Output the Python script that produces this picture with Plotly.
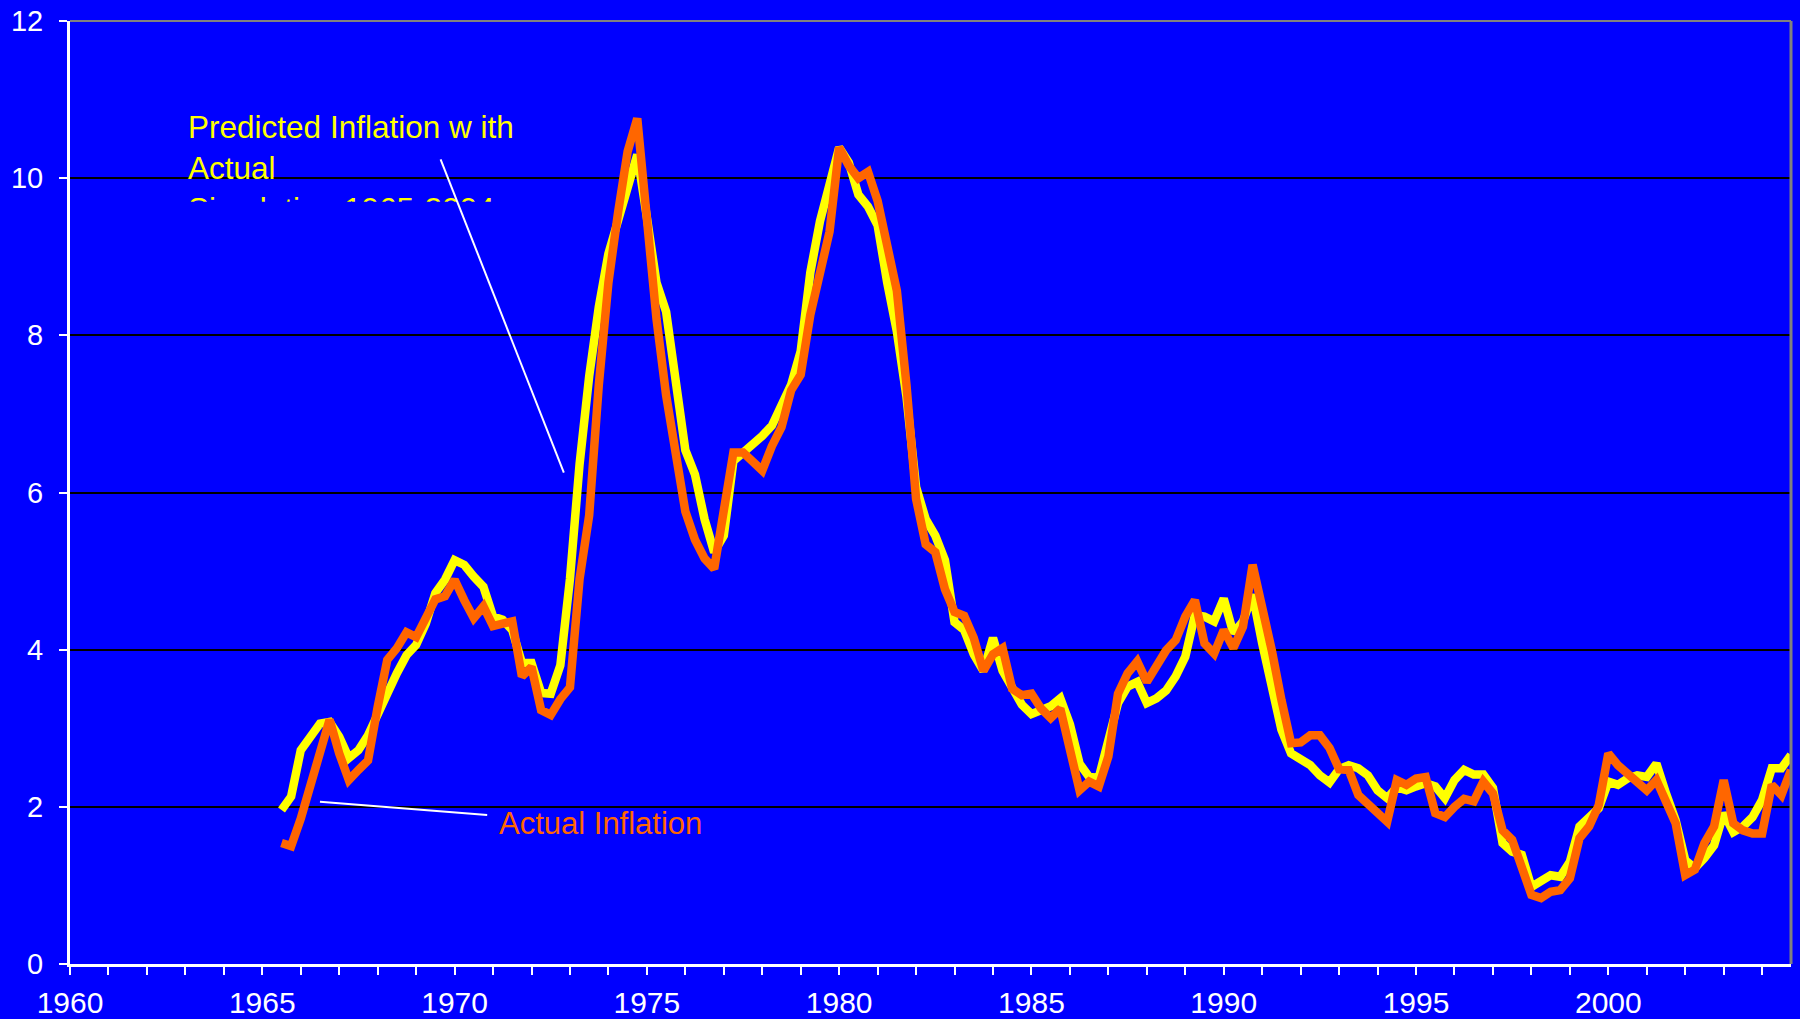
import numpy as np
import plotly.graph_objects as go

# Quarterly observations, 1965Q3 - 2004Q4 (decimal years)
start_year = 1965.5
actual_inflation = [
    1.54, 1.50, 1.85, 2.27, 2.69, 3.11, 2.68, 2.34, 2.47, 2.59,   # 1965.50 - 1967.75
    3.27, 3.87, 4.02, 4.22, 4.16, 4.41, 4.64, 4.68, 4.89, 4.63,   # 1968.00 - 1970.25
    4.40, 4.55, 4.30, 4.33, 4.36, 3.66, 3.78, 3.23, 3.17, 3.37,   # 1970.50 - 1972.75
    3.52, 4.90, 5.71, 7.37, 8.67, 9.56, 10.34, 10.76, 9.51, 8.21, # 1973.00 - 1975.25
    7.24, 6.41, 5.76, 5.40, 5.16, 5.03, 5.83, 6.51, 6.51, 6.41,   # 1975.50 - 1977.75
    6.28, 6.59, 6.83, 7.30, 7.50, 8.26, 8.83, 9.32, 10.39, 10.16, # 1978.00 - 1980.25
    10.00, 10.08, 9.71, 9.19, 8.57, 7.37, 5.92, 5.34, 5.24, 4.77, # 1980.50 - 1982.75
    4.48, 4.43, 4.15, 3.73, 3.94, 4.02, 3.50, 3.42, 3.44, 3.25,   # 1983.00 - 1985.25
    3.13, 3.25, 2.75, 2.21, 2.32, 2.26, 2.64, 3.44, 3.70, 3.85,   # 1985.50 - 1987.75
    3.59, 3.80, 3.99, 4.12, 4.42, 4.63, 4.08, 3.95, 4.25, 4.02,   # 1988.00 - 1990.25
    4.29, 5.08, 4.55, 3.99, 3.36, 2.81, 2.82, 2.91, 2.91, 2.75,   # 1990.50 - 1992.75
    2.48, 2.47, 2.15, 2.04, 1.90, 1.81, 2.34, 2.28, 2.36, 2.38,   # 1993.00 - 1995.25
    1.92, 1.87, 2.00, 2.10, 2.07, 2.32, 2.17, 1.70, 1.58, 1.24,   # 1995.50 - 1997.75
    0.88, 0.84, 0.92, 0.94, 1.09, 1.60, 1.75, 2.02, 2.68, 2.53,   # 1998.00 - 2000.25
    2.43, 2.32, 2.21, 2.34, 2.04, 1.79, 1.13, 1.20, 1.54, 1.75,   # 2000.50 - 2002.75
    2.34, 1.79, 1.70, 1.66, 1.66, 2.28, 2.15, 2.47,               # 2003.00 - 2004.75
]
predicted_inflation = [
    1.96, 2.13, 2.72, 2.91, 3.06, 3.08, 2.89, 2.62, 2.72, 2.91,
    3.15, 3.44, 3.70, 3.93, 4.06, 4.33, 4.72, 4.89, 5.14, 5.08,
    4.93, 4.80, 4.42, 4.38, 4.25, 3.83, 3.83, 3.45, 3.44, 3.80,
    4.90, 6.36, 7.48, 8.36, 9.04, 9.45, 9.92, 10.30, 9.50, 8.67,
    8.30, 7.39, 6.54, 6.23, 5.66, 5.24, 5.45, 6.40, 6.50, 6.62,
    6.72, 6.85, 7.11, 7.37, 7.80, 8.80, 9.45, 9.95, 10.39, 10.20,
    9.79, 9.64, 9.40, 8.67, 8.05, 7.22, 6.07, 5.66, 5.45, 5.14,
    4.35, 4.25, 3.94, 3.73, 4.15, 3.73, 3.52, 3.30, 3.18, 3.23,
    3.28, 3.38, 3.05, 2.55, 2.38, 2.37, 2.89, 3.32, 3.53, 3.59,
    3.32, 3.38, 3.48, 3.66, 3.91, 4.44, 4.42, 4.36, 4.65, 4.21,
    4.36, 4.70, 4.08, 3.51, 2.98, 2.68, 2.60, 2.53, 2.40, 2.31,
    2.48, 2.53, 2.49, 2.40, 2.21, 2.11, 2.25, 2.21, 2.26, 2.30,
    2.26, 2.11, 2.34, 2.47, 2.41, 2.41, 2.24, 1.54, 1.43, 1.39,
    0.98, 1.04, 1.13, 1.11, 1.30, 1.75, 1.87, 1.98, 2.32, 2.28,
    2.36, 2.40, 2.38, 2.55, 2.17, 1.83, 1.32, 1.22, 1.35, 1.51,
    1.92, 1.68, 1.75, 1.87, 2.09, 2.49, 2.49, 2.66,
]
quarters = start_year + 0.25 * np.arange(len(actual_inflation))

x_range = [1960, 2004.75]
y_range = [0, 12]
y_ticks = [0, 2, 4, 6, 8, 10, 12]
x_ticks = [1960, 1965, 1970, 1975, 1980, 1985, 1990, 1995, 2000]

predicted_label = "Predicted Inflation w ith<br>Actual<br>Simulation 1965-2004"
actual_label = "Actual Inflation"

BLUE = "#0000FF"
YELLOW = "#FFFF00"
ORANGE = "#FF6600"
FONT = "Liberation Sans, Arial, sans-serif"

fig = go.Figure()

fig.add_trace(go.Scatter(
    x=quarters, y=predicted_inflation, mode="lines",
    line=dict(color=YELLOW, width=8.5), cliponaxis=False,
    name="Predicted", showlegend=False, hoverinfo="skip",
))
fig.add_trace(go.Scatter(
    x=quarters, y=actual_inflation, mode="lines",
    line=dict(color=ORANGE, width=8.5), cliponaxis=False,
    name="Actual", showlegend=False, hoverinfo="skip",
))

# Label for the predicted series lives in a small overlay panel so that
# its last line is cut off at the panel's lower edge.
panel_bottom = 9.70
fig.add_trace(go.Scatter(
    x=[1963.07], y=[10.81], mode="text", text=[predicted_label],
    textposition="bottom right",
    textfont=dict(family=FONT, size=31.5, color=YELLOW),
    xaxis="x2", yaxis="y2", cliponaxis=True, showlegend=False, hoverinfo="skip",
))

fig.update_layout(
    width=1800, height=1019,
    margin=dict(l=70, r=9, t=21, b=55, autoexpand=False),
    paper_bgcolor=BLUE, plot_bgcolor="rgba(0,0,0,0)",
    showlegend=False,
    font=dict(family=FONT, color="white", size=30),
    xaxis=dict(
        range=x_range, tickvals=x_ticks, showgrid=False, zeroline=False,
        automargin=False,
        showline=True, linecolor="white", linewidth=3,
        ticks="outside", ticklen=8, tickwidth=2, tickcolor="white",
        tickfont=dict(family=FONT, size=30, color="white"),
        ticklabelstandoff=2,
        minor=dict(dtick=1, tick0=1960, ticks="outside", ticklen=8,
                   tickwidth=2, tickcolor="white", showgrid=False),
    ),
    yaxis=dict(
        range=y_range, tickvals=y_ticks, showgrid=True, gridcolor="black",
        gridwidth=2, zeroline=False, automargin=False,
        showline=True, linecolor="white", linewidth=3,
        ticks="outside", ticklen=8, tickwidth=2, tickcolor="white",
        tickfont=dict(family=FONT, size=29, color="white"),
        ticklabelstandoff=10,
    ),
    xaxis2=dict(domain=[0, 1], range=x_range, visible=False, anchor="y2",
                automargin=False),
    yaxis2=dict(domain=[(panel_bottom - y_range[0]) / (y_range[1] - y_range[0]), 1],
                range=[panel_bottom, y_range[1]], visible=False, anchor="x2",
                automargin=False),
)

# Plot-area frame on the top and right edges
fig.add_shape(type="line", xref="paper", yref="paper", x0=0, x1=1, y0=1, y1=1,
              line=dict(color="#808080", width=2))
fig.add_shape(type="line", xref="paper", yref="paper", x0=1, x1=1, y0=0, y1=1,
              line=dict(color="#808080", width=3))

# Leader lines from the labels to the series
fig.add_shape(type="line", xref="x", yref="y", x0=1969.636, y0=10.24,
              x1=1972.841, y1=6.254, line=dict(color="white", width=2))
fig.add_shape(type="line", xref="x", yref="y", x0=1966.499, y0=2.065,
              x1=1970.848, y1=1.896, line=dict(color="white", width=2))

fig.add_annotation(
    x=1971.09, y=1.79, xref="x", yref="y", text=actual_label,
    showarrow=False, xanchor="left", yanchor="middle",
    font=dict(family=FONT, size=31, color=ORANGE),
)

fig.write_html("out.html")
